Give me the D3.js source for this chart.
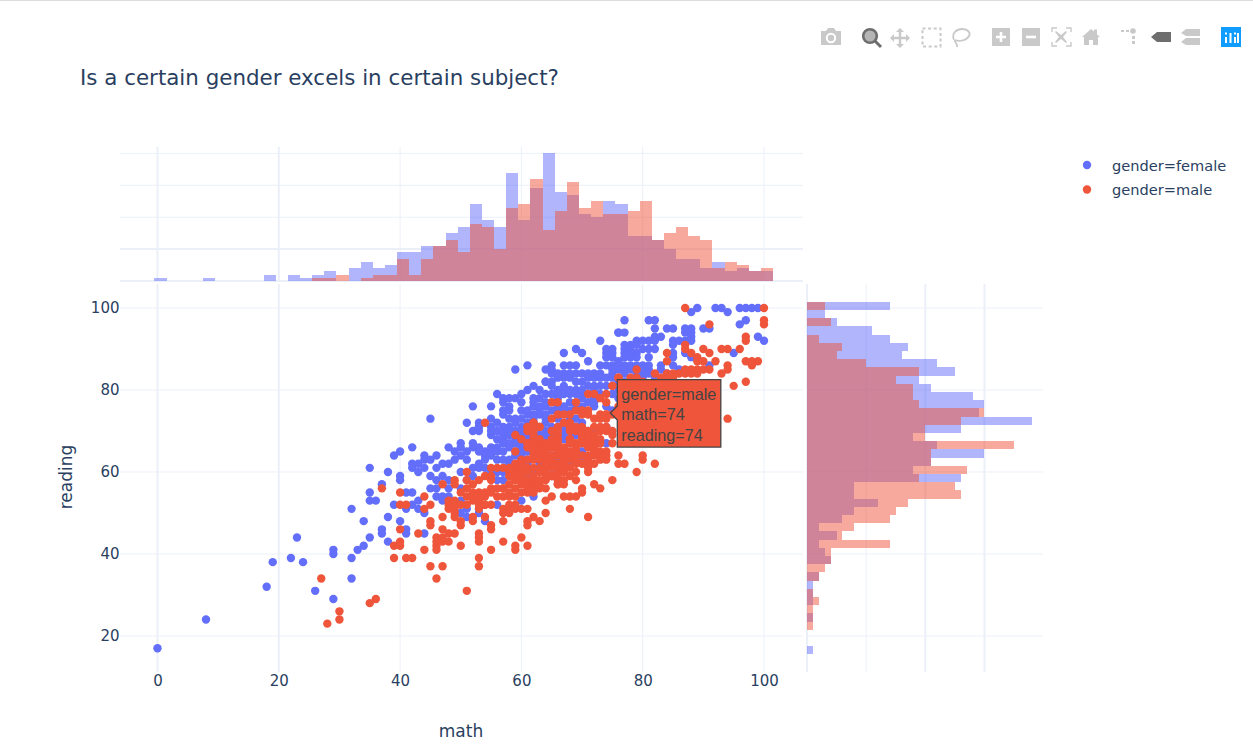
<!DOCTYPE html>
<html><head><meta charset="utf-8">
<style>html,body{margin:0;padding:0;background:#fff;overflow:hidden}svg{display:block}</style>
<script src="https://cdn.jsdelivr.net/npm/d3@7"></script></head><body>
<script>
const title="Is a certain gender excels in certain subject?";
const seriesNames=["gender=female","gender=male"];
const seriesColors=["#636efa","#EF553B"];
const xTicks=[0,20,40,60,80,100];
const yTicks=[20,40,60,80,100];
const topCountTicks=[0,10,20,30,40];
const sideCountTicks=[0,10,20,30];
const mathBinCentres=d3.range(0.5,101,2);
const femaleMathCounts=[1,0,0,0,1,0,0,0,0,2,0,2,1,2,3,0,4,6,4,5,9,9,11,11,15,17,24,19,17,34,19,29,40,28,27,21,20,25,24,14,14,13,10,7,7,4,6,3,4,3,3];
const maleMathCounts=[0,0,0,0,0,0,0,0,0,0,0,0,0,1,1,2,0,1,2,2,7,2,7,11,13,9,18,17,10,23,24,32,16,22,31,23,25,21,21,22,25,13,15,17,14,13,4,6,5,3,4];
const readingBinCentres=d3.range(16.5,101,2);
const femaleReadingCounts=[1,0,0,0,1,0,1,1,1,2,0,4,3,2,5,2,6,8,12,8,8,26,18,21,30,22,18,26,38,29,30,28,21,19,25,22,16,17,14,11,5,3,14];
const maleReadingCounts=[0,0,0,1,1,1,2,1,0,2,3,4,4,14,6,8,14,15,17,26,25,19,27,21,21,35,20,20,26,30,19,18,18,15,19,10,5,6,2,0,4,0,3];
const femalePoints=[[0,17],[8,24],[18,32],[19,38],[22,39],[24,38],[23,44],[26,31],[29,29],[29,41],[29,40],[32,39],[32,34],[33,41],[34,42],[35,44],[34,48],[32,51],[37,46],[37,45],[38,43],[38,49],[35,53],[36,53],[35,61],[35,55],[38,60],[37,57],[40,65],[39,64],[42,66],[40,59],[40,58],[42,62],[42,61],[43,62],[43,60],[44,64],[44,63],[44,61],[45,63],[46,64],[46,61],[45,73],[47,62],[48,62],[48,66],[49,65],[49,63],[50,67],[50,66],[50,64],[51,65],[51,63],[52,67],[52,66],[53,66],[50,60],[52,76],[51,72],[53,72],[53,70],[52,70],[55,76],[55,73],[55,71],[55,69],[56,72],[56,79],[57,78],[57,77],[58,76],[57,75],[57,74],[58,75],[59,78],[60,75],[59,85],[62,78],[63,78],[62,76],[63,80],[64,82],[65,82],[42,55],[41,55],[39,52],[41,51],[42,52],[43,53],[43,51],[44,50],[45,59],[45,56],[46,58],[46,56],[46,54],[47,54],[48,54],[47,59],[47,53],[48,58],[48,56],[44,45],[41,46],[41,45],[40,48],[50,56],[51,58],[52,59],[52,61],[53,62],[53,61],[54,61],[54,65],[54,64],[54,63],[55,65],[55,64],[56,65],[56,68],[57,69],[57,68],[57,67],[58,69],[58,67],[59,68],[56,52],[50,50],[51,49],[53,51],[54,48],[56,58],[57,58],[58,63],[59,64],[50,53],[51,51],[53,50],
[61,86],[67,89],[69,90],[70,89],[73,92],[76,94],[74,90],[74,89],[74,88],[75,90],[75,88],[71,87],[65,86],[65,85],[64,85],[65,84],[67,86],[68,86],[69,86],[67,84],[66,83],[67,83],[69,84],[70,84],[71,84],[71,83],[73,86],[74,86],[75,86],[76,87],[73,84],[73,83],[75,84],[75,83],[64,82],[65,81],[67,81],[68,83],[70,82],[71,81],[72,81],[74,81],[67,80],[68,80],[69,80],[64,79],[65,79],[67,79],[69,79],[68,79],[71,77],[72,76],[70,76],[68,77],[67,76],[63,76],[64,76],[61,74],[62,74],[63,74],[64,74],[53,71],[58,73],[59,73],[59,72],[58,70],[59,70],[60,71],[61,72],[62,73],[64,72],[65,70],[66,71],[69,73],[70,72],[69,71],[71,70],
[88,99],[89,100],[92,100],[93,100],[94,99],[96,100],[97,100],[98,100],[99,100],[77,97],[81,97],[82,97],[82,95],[84,95],[85,95],[87,95],[88,95],[87,94],[88,94],[90,95],[91,95],[96,96],[97,97],[76,94],[77,94],[82,93],[83,93],[81,92],[82,92],[79,92],[80,92],[85,92],[86,92],[85,91],[87,92],[88,93],[88,92],[99,93],[100,92],[77,91],[78,91],[77,90],[78,90],[79,91],[80,90],[81,90],[82,90],[75,89],[77,89],[78,89],[79,89],[77,88],[78,88],[79,88],[81,88],[85,89],[85,88],[87,89],[88,88],[95,89],[91,86],[76,86],[77,86],[78,86],[79,86],[80,86],[81,86],[83,86],[85,86],[86,85],[75,85],[76,85],[77,85],[77,84],[78,85],[80,85],[81,85],[79,84],[80,84],[81,84],[83,85],[84,84],[72,84],[68,84],[66,84],[72,83],[74,83],[69,82],[73,81],[76,82],[77,82],[80,83],[82,83],[78,81],[80,81],[70,79],[73,79],[75,79],[76,78],[76,80],[79,78],[66,75],[68,75],[72,77],[74,76],[75,75],[77,76],
[53,71],[55,70],[57,71],[58,71],[60,70],[63,71],[65,71],[67,71],[56,70],[57,70],[59,69],[62,70],[64,70],[66,70],[67,70],[68,70],[70,70],[72,70],[60,69],[61,69],[63,69],[64,69],[65,69],[67,69],[69,69],[60,68],[61,68],[63,68],[64,68],[65,68],[67,68],[68,68],[59,67],[60,67],[63,67],[64,67],[68,67],[53,65],[56,66],[58,66],[60,66],[55,66],[57,65],[59,65],[60,65],[61,65],[60,64],[61,63],[60,63],[65,61],[62,60],[57,63],[56,63],[58,62],[60,62],[61,62],[55,60],[56,60],[57,60],[60,59],[61,59],[63,62],[65,64],[66,63],[68,62],[70,65],[70,67],[74,71],[74,67],[72,69],[70,63],[65,59],[62,54],[60,53],
[66,78],[70,78],[72,78],[60,79],[61,80],[62,81],[66,80],[70,80],[72,80],[60,77],[62,77],[64,77],[66,79],[58,78],[60,73],[62,72],[64,73],[66,73],[68,73],[66,76],[69,76],[65,75],[63,75],[61,75],[67,75]];
const malePoints=[[27,34],[36,29],[35,28],[30,26],[30,24],[28,23],[37,56],[40,55],[40,52],[41,52],[44,54],[44,51],[45,52],[40,46],[43,45],[47,57],[49,58],[49,57],[51,60],[52,57],[53,58],[54,59],[55,59],[55,58],[54,72],[55,61],[56,61],[57,61],[58,61],[58,60],[58,59],[59,61],[59,60],[59,59],[60,63],[60,61],[60,60],[61,61],[59,69],[60,68],[59,65],[65,77],[66,77],[65,73],[66,74],[67,74],[67,72],[62,72],[61,71],[61,70],[63,71],[61,67],[61,66],[62,68],[62,67],[62,66],[63,67],[63,66],[64,66],[62,64],[62,63],[63,64],[64,64],[65,66],[66,68],[66,67],[66,66],[66,65],[67,63],[67,62],[68,68],[51,56],[52,55],[53,55],[54,54],[55,56],[55,55],[51,54],[52,53],[53,53],[54,52],[53,52],[49,53],[48,52],[49,52],[48,51],[49,51],[49,50],[49,49],[51,52],[53,51],[47,49],[50,48],[50,47],[45,48],[45,47],[47,46],[48,45],[49,45],[52,49],[52,48],[54,49],[55,47],[55,46],[53,45],[53,44],[46,44],[47,44],[57,54],[56,54],[57,56],[58,57],[58,52],[57,51],[57,50],[58,51],[58,50],[59,52],[59,51],[60,51],[61,51],[59,58],[60,57],[61,57],[61,55],[62,57],[62,55],[63,56],[64,56],[64,53],[65,54],[67,54],[68,54],[64,59],[65,59],[66,57],[67,57],[64,50],[62,49],[61,48],[61,47],[63,48],[57,48],[60,44],[57,43],
[39,42],[40,43],[40,42],[44,41],[39,39],[41,39],[42,39],[46,43],[46,42],[46,41],[47,43],[48,43],[50,42],[53,43],[55,41],[59,42],[59,41],[61,42],[45,37],[47,37],[46,34],[53,39],[53,37],[51,31],[48,53],[50,52],[52,54],[53,54],[54,55],[56,56],[58,54],[59,54],[55,52],[50,55],[51,58],
[69,77],[71,79],[72,79],[74,79],[73,78],[74,77],[75,81],[76,83],[68,74],[69,75],[70,75],[71,75],[71,74],[70,74],[68,72],[72,73],[73,74],[74,74],[75,74],[73,73],[74,73],[62,72],[69,71],[68,70],[69,70],[70,70],[73,71],[74,71],[73,70],[74,70],[75,70],[75,69],[71,69],[66,69],[65,68],
[87,100],[100,100],[91,96],[100,97],[100,96],[97,93],[97,92],[87,91],[87,90],[90,90],[91,89],[93,90],[94,90],[96,90],[88,89],[84,89],[84,87],[89,88],[89,87],[90,87],[92,87],[94,86],[94,85],[97,87],[98,87],[99,87],[98,86],[91,85],[90,85],[89,85],[88,85],[87,85],[93,84],[87,84],[88,84],[89,84],[86,84],[84,84],[85,84],[83,83],[84,83],[85,83],[82,84],[79,85],[79,83],[76,83],[78,83],[80,82],[75,81],[95,81],[97,82],[94,73],
[75,58],[72,57],[73,56],[79,60],[82,62],[76,64],[76,62],[77,62],[80,64],[80,63],[71,62],[71,60],[69,60],[69,58],[66,57],[70,56],[70,55],[69,54],[68,51],[71,49],[54,52],[58,55],[57,56],
[61,71],[63,71],[66,71],[68,71],[70,71],[72,71],[62,70],[65,70],[66,70],[71,70],[62,69],[70,69],[72,69],[63,68],[68,68],[70,68],[71,68],[72,68],[73,68],[61,67],[64,67],[65,67],[68,67],[69,67],[70,67],[71,67],[72,67],[73,67],[75,67],[64,66],[65,66],[67,66],[69,66],[71,66],[72,66],[62,65],[63,65],[64,65],[67,65],[68,65],[69,65],[72,65],[73,65],[74,65],[65,64],[66,64],[67,64],[68,64],[69,64],[70,64],[71,64],[72,64],[73,64],[74,64],[61,63],[63,63],[64,63],[65,63],[68,63],[69,63],[71,63],[73,63],[74,63],[59,62],[60,62],[64,62],[65,62],[66,62],[69,62],[70,62],[72,62],[62,61],[63,61],[64,61],[65,61],[66,61],[67,61],[68,61],[71,61],[61,60],[63,60],[64,60],[66,60],[67,60],[60,59],[62,59],[65,59],[66,59],[68,59],[59,58],[60,58],[61,58],[62,58],[63,58],[64,58],[66,58],[67,58],[63,57],[61,56],[62,56],[59,56],[60,55],[74,74],[76,76],[78,79],[77,78],[79,80]];

const W=1253,H=745;
const x=d3.scaleLinear().domain([-6.18,106.43]).range([120,803]);
const y=d3.scaleLinear().domain([11.2,105.85]).range([672,284]);
const topY=d3.scaleLinear().domain([0,42]).range([281,147]);
const sideX=d3.scaleLinear().domain([0,39.9]).range([807,1043]);
const svg=d3.select("body").append("svg").attr("width",W).attr("height",H).style("font-family","'DejaVu Sans',sans-serif");
const grid="#ebf0f8";
svg.append("rect").attr("x",0).attr("y",0).attr("width",W).attr("height",1).attr("fill","#dcdcdc");

function vline(g,px,y1,y2,w){g.append("line").attr("x1",px).attr("x2",px).attr("y1",y1).attr("y2",y2).attr("stroke",grid).attr("stroke-width",w);}
function hline(g,py,x1,x2,w){g.append("line").attr("x1",x1).attr("x2",x2).attr("y1",py).attr("y2",py).attr("stroke",grid).attr("stroke-width",w);}
const gridG=svg.append("g");
const xW=v=>(v===0||v===20)?2:1;
xTicks.forEach(t=>{vline(gridG,x(t),147,281,xW(t));vline(gridG,x(t),284,672,xW(t));});
yTicks.forEach(t=>{hline(gridG,y(t),120,803,1);hline(gridG,y(t),807,1043,1);});
topCountTicks.forEach(t=>hline(gridG,topY(t),120,803,t===0?2:(t===10?2:1)));
sideCountTicks.forEach(t=>vline(gridG,sideX(t),284,672,t===0?2:(t===10?1:2)));

// marginal histograms
const barW=x(2)-x(0), barH=y(0)-y(2);
[femaleMathCounts,maleMathCounts].forEach((c,i)=>{
  svg.append("g").attr("opacity",0.5).attr("shape-rendering","crispEdges").selectAll("rect").data(mathBinCentres.map((b,k)=>[b,c[k]]).filter(d=>d[1]>0)).join("rect")
    .attr("x",d=>x(d[0]-1)).attr("width",barW).attr("y",d=>topY(d[1])).attr("height",d=>topY(0)-topY(d[1])).attr("fill",seriesColors[i]);
});
[femaleReadingCounts,maleReadingCounts].forEach((c,i)=>{
  svg.append("g").attr("opacity",0.5).attr("shape-rendering","crispEdges").selectAll("rect").data(readingBinCentres.map((b,k)=>[b,c[k]]).filter(d=>d[1]>0)).join("rect")
    .attr("y",d=>y(d[0]+1)).attr("height",barH).attr("x",sideX(0)).attr("width",d=>sideX(d[1])-sideX(0)).attr("fill",seriesColors[i]);
});

// scatter
[femalePoints,malePoints].forEach((p,i)=>{
  svg.append("g").selectAll("circle").data(p).join("circle")
    .attr("cx",d=>x(d[0])).attr("cy",d=>y(d[1])).attr("r",4.2).attr("fill",seriesColors[i]);
});

// axes labels
const ink="#2a3f5f";
const xAxis=d3.axisBottom(x).tickValues(xTicks).tickSize(0).tickPadding(0);
const xg=svg.append("g").attr("transform","translate(0,675)").call(xAxis);
xg.select(".domain").remove();
xg.selectAll("text").attr("y",0).attr("dy","0.71em").attr("fill",ink).style("font-size","15px").style("font-family","'DejaVu Sans'");
const yAxis=d3.axisLeft(y).tickValues(yTicks).tickSize(0).tickPadding(0);
const yg=svg.append("g").attr("transform","translate(119.5,0)").call(yAxis);
yg.select(".domain").remove();
yg.selectAll("text").attr("fill",ink).style("font-size","15px").style("font-family","'DejaVu Sans'");

svg.append("text").attr("x",461).attr("y",737).attr("text-anchor","middle").attr("fill",ink).style("font-size","17px").text("math");
svg.append("text").attr("transform","translate(72,477) rotate(-90)").attr("text-anchor","middle").attr("fill",ink).style("font-size","17px").text("reading");
svg.append("text").attr("x",80).attr("y",85).attr("fill",ink).style("font-size","21.4px").text(title);

// legend
seriesNames.forEach((n,i)=>{
  const ly=165+i*24.5;
  svg.append("circle").attr("cx",1087).attr("cy",ly).attr("r",4.2).attr("fill",seriesColors[i]);
  svg.append("text").attr("x",1112).attr("y",ly+5.5).attr("fill",ink).style("font-size","14.6px").text(n);
});

// hover label
const hoverPoint=[74,74];
const hoverLines=["gender=male","math="+hoverPoint[0],"reading="+hoverPoint[1]];
const tipX=x(hoverPoint[0])+4, tipY=y(hoverPoint[1])-1.5;
const hg=svg.append("g");
const bx=tipX+7, bw=103.5, by=tipY-33.5, bh=67.5;
hg.append("path").attr("d",`M${tipX},${tipY}L${bx},${tipY-7}V${by}H${bx+bw}V${by+bh}H${bx}V${tipY+7}Z`).attr("fill",seriesColors[1]).attr("stroke","#444").attr("stroke-width",1.3);
hoverLines.forEach((t,i)=>hg.append("text").attr("x",bx+4).attr("y",by+20+i*20.5).attr("fill","#444").style("font-family","'Liberation Sans',Arial,sans-serif").style("font-size","16.2px").text(t));

// mode bar
const mb=svg.append("g"), gc="#c9c9c9", dk="#6e6e6e";
function R(x0,y0,w,h,c,g=mb){return g.append("rect").attr("x",x0).attr("y",y0).attr("width",w).attr("height",h).attr("fill",c);}
function P(d,c,g=mb){return g.append("path").attr("d",d).attr("fill",c);}
function S(d,c,w,extra){const e=mb.append("path").attr("d",d).attr("fill","none").attr("stroke",c).attr("stroke-width",w);if(extra)e.attr("stroke-dasharray",extra);return e;}
// camera
P("M821,31h5l2,-3h6l2,3h5v14h-20z",gc);
mb.append("circle").attr("cx",831).attr("cy",38).attr("r",4.2).attr("fill","none").attr("stroke","#fff").attr("stroke-width",2);
// zoom
mb.append("circle").attr("cx",870).attr("cy",36).attr("r",6.8).attr("fill","#b5b5b5").attr("stroke",dk).attr("stroke-width",2.6);
S("M875,41l6,6",dk,3);
// pan
S("M900,29v18M891,38h18",gc,2.4);
P("M900,28l4,4h-8zM900,48l4,-4h-8zM890,38l4,-4v8zM910,38l-4,-4v8z",gc);
// box select
S("M922.5,28.5h18v18h-18z",gc,2,"3 2.6");
// lasso
S("M954,40c-3,-7 3,-11 8,-11c6,0 9,4 7,7c-2,4 -9,6 -14,4M955,40c-1,3 3,3 2,7",gc,1.8);
// plus
R(992,28,18,18,gc);S("M1001,32v10M996,37h10","#fff",2.6);
// minus
R(1022,28,18,18,gc);S("M1026,37h10","#fff",2.6);
// autoscale
S("M1052,32v-4h5M1066,28h5v4M1071,42v4h-5M1057,46h-5v-4",gc,1.4);
P("M1056,31l5,4l5,-4l1,1l-4,5l4,5l-1,1l-5,-4l-5,4l-1,-1l4,-5l-4,-5z",gc);
// home
P("M1082,37l9,-8l3,2.5v-2h3v5l3,2.5h-2v8h-5v-5h-4v5h-5v-8z",gc);
// spike
R(1121,30,3,2,gc);R(1126,30,3,2,gc);
mb.append("circle").attr("cx",1133).attr("cy",31).attr("r",2.8).attr("fill",gc);
R(1132,36,3,3,gc);R(1132,41,3,3,gc);
// closest
P("M1151,37l6,-5h14v10h-14z",dk);
// compare
P("M1181,33l5,-4h14v7h-14zM1181,42l5,-4h14v7h-14z",gc);
// plotly logo
R(1221,27,20,20,"#119dff");
[[1225,37,2,6],[1229.5,33,2,10],[1234,37,2,6],[1237,33,2,10]].forEach(b=>R(b[0],b[1],b[2],b[3],"#fff"));
[[1225,32.5],[1234,32.5]].forEach(b=>R(b[0],b[1],2,2,"#fff"));
</script></body></html>
